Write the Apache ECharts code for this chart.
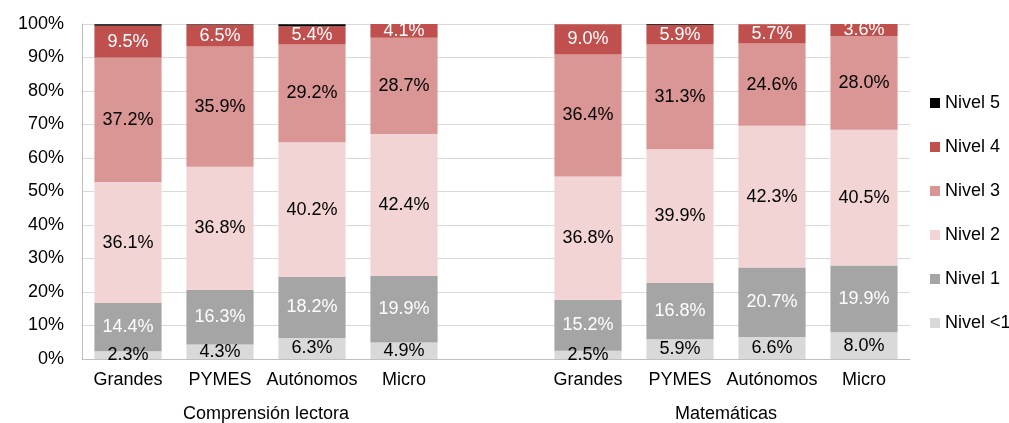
<!DOCTYPE html>
<html lang="es">
<head>
<meta charset="UTF-8">
<script src="https://cdn.jsdelivr.net/npm/echarts@6/dist/echarts.min.js"></script>
<style>
	html, body { margin: 0; padding: 0; background: #fff; }
	#chart { width: 1009px; height: 423px; }
</style>
</head>
<body>
<div id="chart"></div>
<script type="text/javascript">
	// categorias (hueco vacio entre los dos grupos)
	var categorias = ['Grandes', 'PYMES', 'Autónomos', 'Micro', '', 'Grandes', 'PYMES', 'Autónomos', 'Micro'];
	var grupos = ['Comprensión lectora', 'Matemáticas'];

	// porcentajes por nivel (null en el hueco)
	var nivelMenos1 = [2.3, 4.3, 6.3, 4.9, null, 2.5, 5.9, 6.6, 8.0];
	var nivel1 = [14.4, 16.3, 18.2, 19.9, null, 15.2, 16.8, 20.7, 19.9];
	var nivel2 = [36.1, 36.8, 40.2, 42.4, null, 36.8, 39.9, 42.3, 40.5];
	var nivel3 = [37.2, 35.9, 29.2, 28.7, null, 36.4, 31.3, 24.6, 28.0];
	var nivel4 = [9.5, 6.5, 5.4, 4.1, null, 9.0, 5.9, 5.7, 3.6];
	var nivel5 = [0.4, 0.1, 0.6, 0, null, 0, 0.2, 0, 0];

	var ticksY = [0, 10, 20, 30, 40, 50, 60, 70, 80, 90, 100];

	var fuente = 'Liberation Sans, Arial, sans-serif';

	function serie(nombre, datos, color, colorTexto, conEtiqueta) {
		return {
			name: nombre,
			type: 'bar',
			stack: 'total',
			barWidth: '73%',
			data: datos,
			itemStyle: { color: color },
			label: {
				show: conEtiqueta,
				position: 'inside',
				color: colorTexto,
				fontFamily: fuente,
				fontSize: 18,
				formatter: function (p) { return p.value.toFixed(1) + '%'; }
			},
			emphasis: { disabled: true }
		};
	}

	var mychar = echarts.init(document.getElementById('chart'));
	var option = {
		animation: false,
		textStyle: { fontFamily: fuente },
		grid: { left: 82, right: 99, top: 24, bottom: 63 },
		legend: {
			orient: 'vertical',
			left: 925,
			top: 89,
			itemGap: 26,
			itemWidth: 10,
			itemHeight: 10,
			icon: 'rect',
			data: ['Nivel 5', 'Nivel 4', 'Nivel 3', 'Nivel 2', 'Nivel 1', 'Nivel <1'],
			textStyle: { fontSize: 18, color: '#000', fontFamily: fuente }
		},
		xAxis: [{
			type: 'category',
			data: categorias,
			axisLine: { lineStyle: { color: '#bfbfbf' } },
			axisTick: { show: false },
			axisLabel: { color: '#000', fontSize: 18, margin: 12, interval: 0 }
		}, {
			// eje auxiliar para las etiquetas de grupo
			type: 'value',
			position: 'bottom',
			offset: 38,
			min: 0,
			max: 9,
			interval: 0.5,
			axisLine: { show: false },
			axisTick: { show: false },
			splitLine: { show: false },
			axisLabel: {
				color: '#000',
				fontSize: 18,
				showMinLabel: true,
				showMaxLabel: true,
				formatter: function (v) {
					if (v === 2) return grupos[0];
					if (v === 7) return grupos[1];
					return '';
				}
			}
		}],
		yAxis: {
			type: 'value',
			min: ticksY[0],
			max: ticksY[ticksY.length - 1],
			interval: 10,
			axisLine: { show: true, lineStyle: { color: '#bfbfbf' } },
			axisTick: { show: false },
			splitLine: { lineStyle: { color: '#d9d9d9' } },
			axisLabel: { color: '#000', fontSize: 18, margin: 18, formatter: '{value}%' }
		},
		series: [
			serie('Nivel <1', nivelMenos1, '#d9d9d9', '#000', true),
			serie('Nivel 1', nivel1, '#a5a5a5', '#fff', true),
			serie('Nivel 2', nivel2, '#f2d4d4', '#000', true),
			serie('Nivel 3', nivel3, '#d99694', '#000', true),
			serie('Nivel 4', nivel4, '#c0504d', '#fff', true),
			serie('Nivel 5', nivel5, '#000000', '#fff', false)
		]
	};
	mychar.setOption(option);
</script>
</body>
</html>
